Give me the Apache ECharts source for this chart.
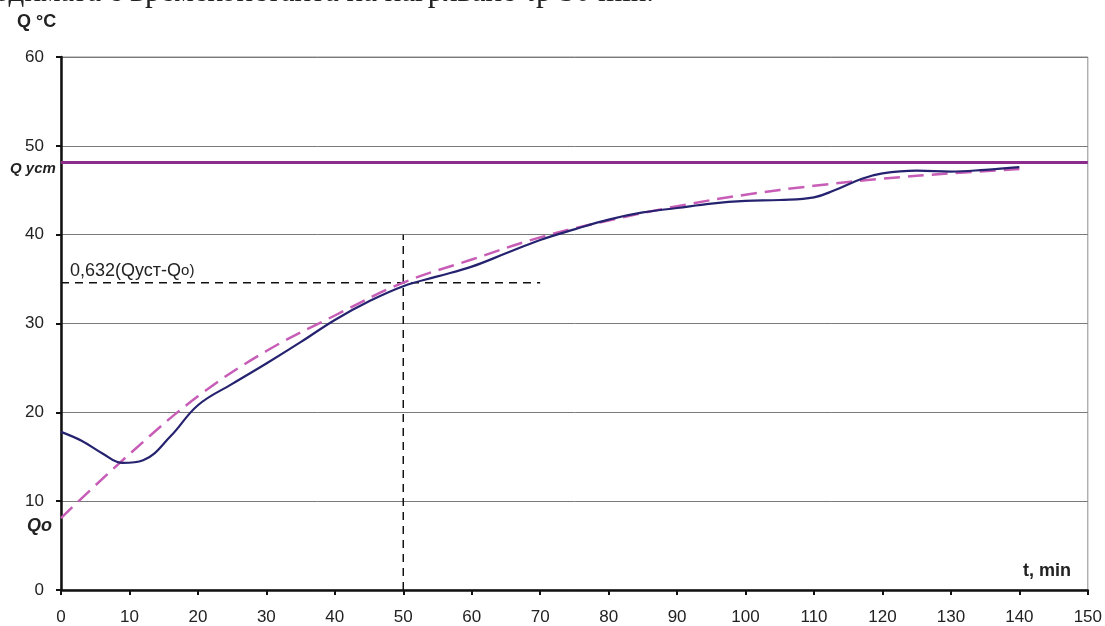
<!DOCTYPE html>
<html>
<head>
<meta charset="utf-8">
<script src="https://cdn.jsdelivr.net/npm/echarts@6/dist/echarts.min.js"></script>
<style>
html,body{margin:0;padding:0;background:#fff;}
#c{width:1105px;height:626px;}
</style>
</head>
<body>
<div id="c"></div>
<script>
// Data
const xTicks = [0,10,20,30,40,50,60,70,80,90,100,110,120,130,140,150];
const yTicks = [0,10,20,30,40,50,60];
const measuredT = [0,3,6,9,12,16,20,25,30,35,40,45,50,55,60,65,70,75,80,85,90,95,100,105,110,113,117,120,125,130,135,140];
const measuredQ = [17.8,16.8,15.4,14.3,14.6,17.3,20.8,23.2,25.5,27.9,30.4,32.5,34.2,35.3,36.4,37.9,39.4,40.6,41.7,42.5,43.0,43.5,43.8,43.9,44.2,45.0,46.3,46.9,47.2,47.1,47.3,47.6];
const fitT = [0,10,20,30,40,50,60,70,80,90,100,110,120,130,140];
const fitQ = [8.1,15.3,21.8,26.9,30.9,34.6,37.2,39.7,41.6,43.2,44.5,45.5,46.3,46.9,47.4];
const qSteady = 48.2;
const q632 = 34.6;
const tConst = 50;
const hLineT = [0,70];
const vLineQ = [0,40];

const chart = echarts.init(document.getElementById('c'));
const FONT = '"Liberation Sans", Arial, sans-serif';

const option = {
  animation: false,
  backgroundColor: '#fff',
  grid: {left: 61, right: 17, top: 57, bottom: 35, show: true, borderColor: '#8c8c8c', borderWidth: 1, backgroundColor: 'transparent'},
  xAxis: {
    type: 'value', min: 0, max: 150, interval: 10,
    axisLine: {show: true, onZero: false, lineStyle: {color: '#111', width: 2.5}},
    axisTick: {show: true, inside: false, length: 5, lineStyle: {color: '#111', width: 2}},
    axisLabel: {color: '#222', fontSize: 17, fontFamily: FONT, margin: 19},
    splitLine: {show: false}
  },
  yAxis: {
    type: 'value', min: 0, max: 60, interval: 10,
    axisLine: {show: true, lineStyle: {color: '#111', width: 2.5}},
    axisTick: {show: true, length: 5, lineStyle: {color: '#111', width: 2}},
    axisLabel: {color: '#222', fontSize: 17, fontFamily: FONT, margin: 17},
    splitLine: {show: true, lineStyle: {color: '#7a7a7a', width: 1}}
  },
  series: [
    {
      type: 'line', name: 'steady', data: [], symbol: 'none',
      markLine: {
        silent: true, symbol: 'none', label: {show: false},
        lineStyle: {color: '#8b2c8c', width: 3, type: 'solid'},
        data: [{yAxis: qSteady}]
      }
    },
    {
      type: 'line', name: 'h632', symbol: 'none',
      data: hLineT.map(t => [t, q632]),
      lineStyle: {color: '#111', width: 1.5, type: [8,6]}, z: 3
    },
    {
      type: 'line', name: 'vT', symbol: 'none',
      data: vLineQ.map(q => [tConst, q]),
      lineStyle: {color: '#111', width: 1.5, type: [8,6]}, z: 3
    },
    {
      type: 'line', name: 'fit', symbol: 'none', smooth: 0.4,
      data: fitT.map((t,i) => [t, fitQ[i]]),
      lineStyle: {color: '#c75db6', width: 2.5, type: [16,8]}, z: 4
    },
    {
      type: 'line', name: 'measured', symbol: 'none', smooth: 0.4,
      data: measuredT.map((t,i) => [t, measuredQ[i]]),
      lineStyle: {color: '#25236f', width: 2.2}, z: 5
    }
  ],
  graphic: [
    {type: 'text', left: -6, top: -23, style: {text: 'одимата е времеконстанта на нагряване τр 50 min.', font: '31px "Liberation Serif", "DejaVu Serif", serif', fill: '#222'}},
    {type: 'text', left: 17, top: 13, style: {text: 'Q °C', font: 'bold 18px ' + FONT, fill: '#222'}},
    {type: 'text', left: 10, top: 161, style: {text: 'Q ycm', font: 'italic bold 15px ' + FONT, fill: '#222'}},
    {type: 'text', left: 27, top: 517, style: {text: 'Qo', font: 'italic bold 18px ' + FONT, fill: '#222'}},
    {type: 'text', left: 1023, top: 562, style: {text: 't, min', font: 'bold 18px ' + FONT, fill: '#222'}},
    {type: 'text', left: 70, top: 262, style: {rich: {a: {font: '18px ' + FONT, fill: '#222'}, b: {font: '15px ' + FONT, fill: '#222'}}, text: '{a|0,632(Qуст-Q}{b|o)}'}}
  ]
};
chart.setOption(option);
</script>
</body>
</html>
